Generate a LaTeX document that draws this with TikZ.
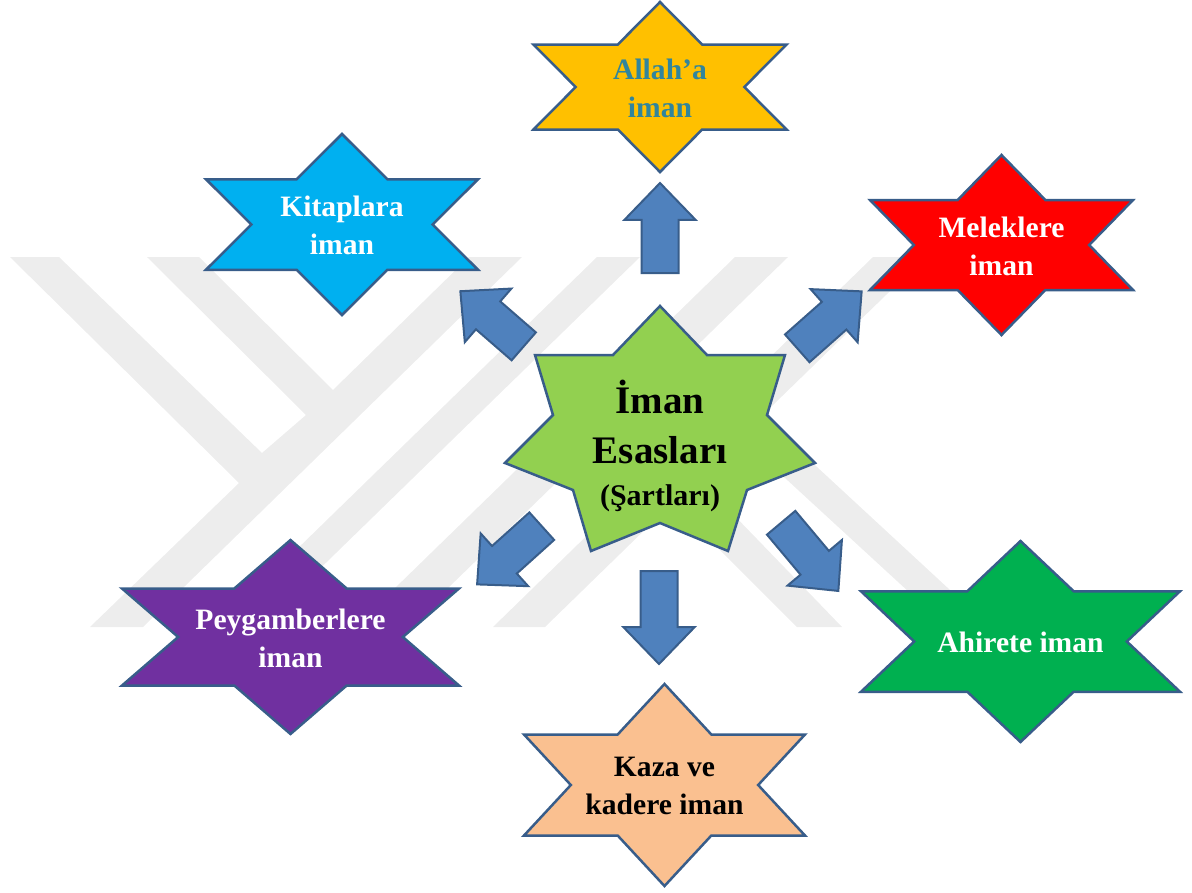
\documentclass[tikz,border=0pt]{standalone}
\usepackage{fontspec}
\setmainfont{Liberation Serif}
\usetikzlibrary{shapes.arrows}

\definecolor{linkblue}{HTML}{4F81BD}
\definecolor{edgeblue}{HTML}{385D8A}
\definecolor{markgray}{HTML}{EDEDED}
\definecolor{tealtext}{HTML}{31859C}
\definecolor{allahfill}{HTML}{FFC000}
\definecolor{kitapfill}{HTML}{00B0F0}
\definecolor{melekfill}{HTML}{FF0000}
\definecolor{peygfill}{HTML}{7030A0}
\definecolor{ahiretfill}{HTML}{00B050}
\definecolor{kazafill}{HTML}{FAC090}
\definecolor{imanfill}{HTML}{92D050}

\tikzset{
  starline/.style={draw=edgeblue, line width=2.5pt, line join=miter},
  starlabel/.style={align=center, font=\fontsize{29.6}{38}\selectfont\bfseries},
  blockarrow/.style={single arrow, draw=edgeblue, fill=linkblue, line width=2pt, anchor=tail,
    inner xsep=0pt, inner ysep=17.5pt, single arrow head extend=17pt, single arrow tip angle=88},
  markband/.style={fill=markgray}
}

\newcommand{\sixstar}[7]{
  \begin{scope}[shift={#2}, x=#3pt, y=-#4pt]
    \draw [starline, fill=#5] (0,-.5) -- (.1667,-.25) -- (.5,-.25) -- (.3333,0) -- (.5,.25)
      -- (.1667,.25) -- (0,.5) -- (-.1667,.25) -- (-.5,.25) -- (-.3333,0) -- (-.5,-.25)
      -- (-.1667,-.25) -- cycle;
  \end{scope}
  \node [starlabel, text=#6, yshift=-1pt] (#1) at #2 {#7};
}

\begin{document}
\begin{tikzpicture}[x=1pt, y=-1pt]
\useasboundingbox (0,0) rectangle (1192,892);

% logo behind the diagram
\fill [markband] (10,257) -- (59,257) -- (262,453) -- (306,415) -- (147,257) -- (199,257)
  -- (333,390) -- (469,257) -- (522,257) -- (143,627) -- (90,627) -- (239,483) -- cycle;
\fill [markband] (597,257) -- (640,257) -- (260,627) -- (217,627) -- cycle;
\fill [markband] (735,257) -- (788,257) -- (408,627) -- (355,627) -- cycle;
\fill [markband] (873,257) -- (925,257) -- (545,627) -- (493,627) -- cycle;
\fill [markband] (760,455) -- (790,442) -- (990,627) -- (947,627) -- cycle;
\fill [markband] (700,480) -- (680,510) -- (797,627) -- (842,627) -- cycle;

% outer stars
\sixstar{allah}{(660,87)}{253}{170}{allahfill}{tealtext}{Allah’a\\iman}
\sixstar{kitap}{(342,224.5)}{272}{181}{kitapfill}{white}{Kitaplara\\iman}
\sixstar{melek}{(1001.5,245)}{263}{180}{melekfill}{white}{Meleklere\\iman}
\sixstar{peygamber}{(290.5,637)}{337}{194}{peygfill}{white}{Peygamberlere\\iman}
\sixstar{ahiret}{(1020.5,641.5)}{319}{201}{ahiretfill}{white}{Ahirete iman}
\sixstar{kaza}{(664.5,785)}{281}{202}{kazafill}{black}{Kaza ve\\kadere iman}

% centre star
\draw [starline, fill=imanfill] (660,306) -- (707,355) -- (785,355) -- (767,415) -- (815,463)
  -- (747,490) -- (728,551) -- (660,523) -- (591,551) -- (573,490) -- (505,463) -- (553,415)
  -- (535,355) -- (613,355) -- cycle;
\node [align=center, font=\fontsize{39}{50}\selectfont\bfseries] (iman) at (660,422) {İman\\Esasları};
\node [font=\fontsize{30}{36}\selectfont\bfseries] (sart) at (660,498) {(Şartları)};

% arrows out of the centre
\node [blockarrow, rotate=90, minimum height=90pt] (toallah) at (660,274) {};
\node [blockarrow, rotate=139, minimum height=84pt] (tokitap) at (524.5,347) {};
\node [blockarrow, rotate=41.5, minimum height=86pt] (tomelek) at (796.5,349) {};
\node [blockarrow, rotate=222, minimum height=87pt] (topeygamber) at (542.5,525.5) {};
\node [blockarrow, rotate=-50, minimum height=89pt] (toahiret) at (780.5,522) {};
\node [blockarrow, rotate=-90, minimum height=93pt] (tokaza) at (659,570) {};
\end{tikzpicture}
\end{document}
